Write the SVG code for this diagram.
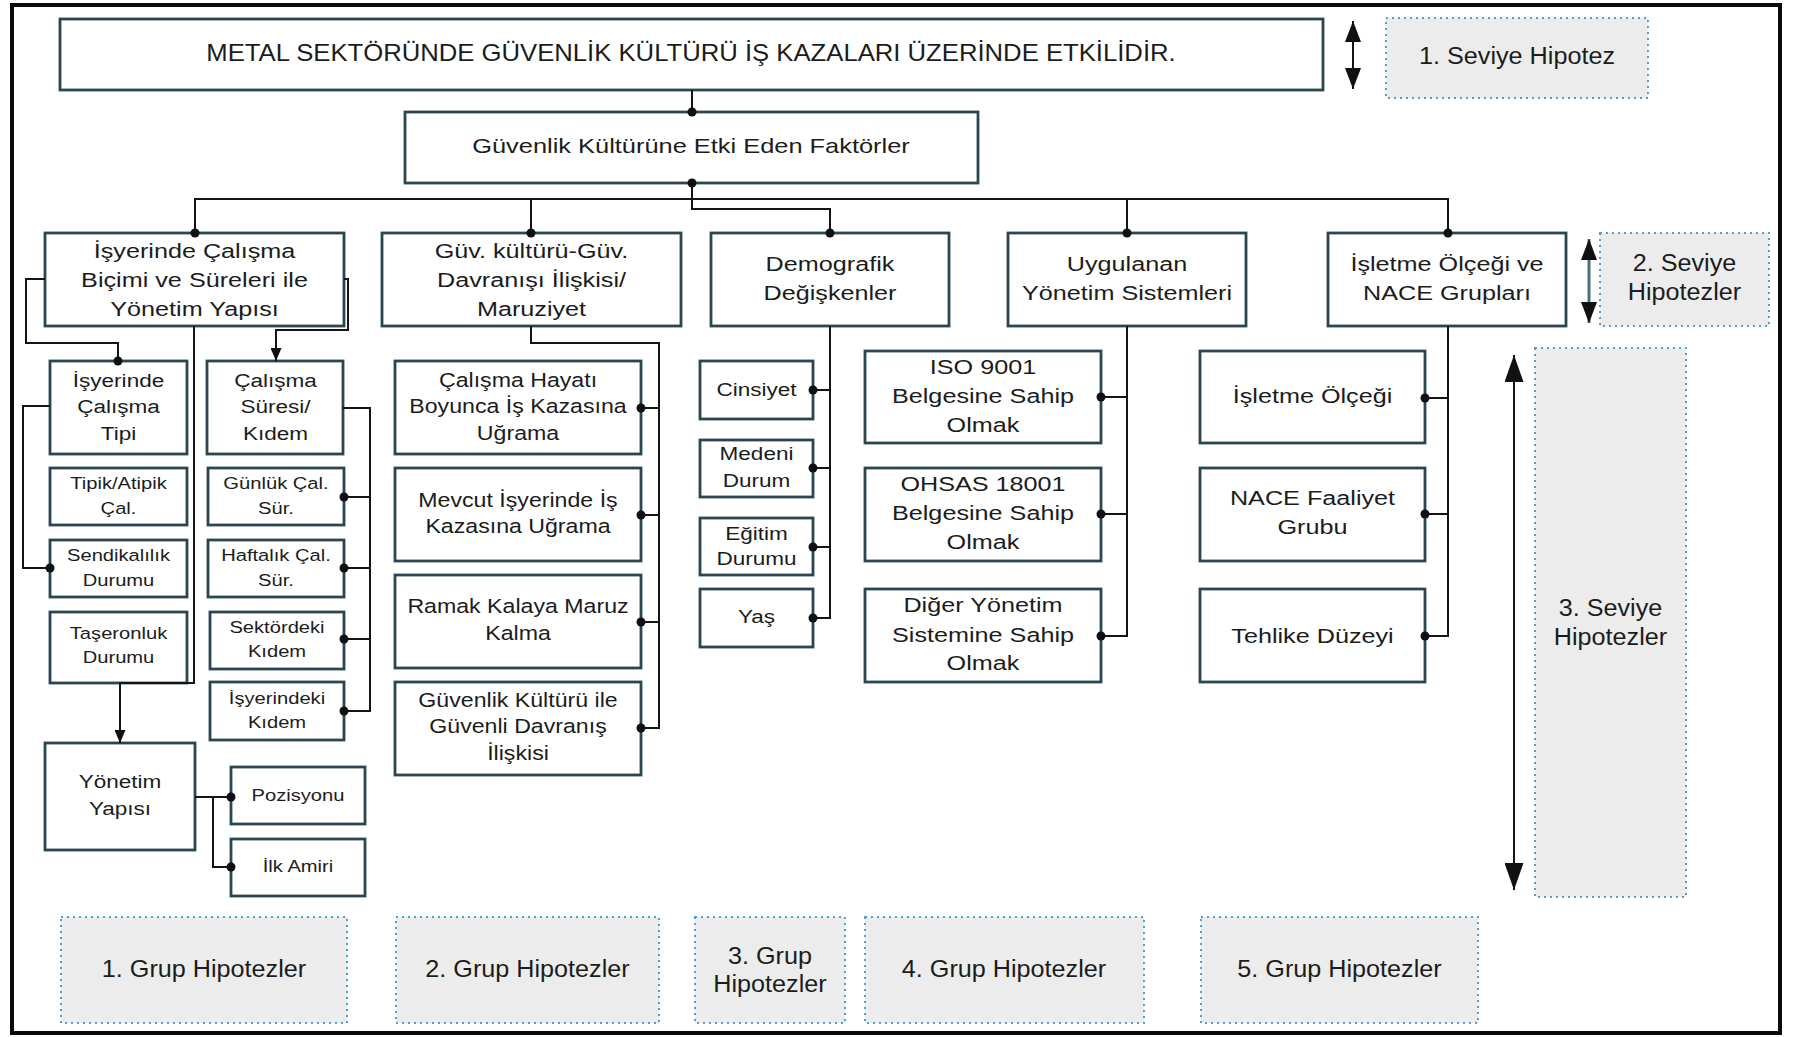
<svg xmlns="http://www.w3.org/2000/svg" width="1802" height="1037" viewBox="0 0 1802 1037">
  <style>
    .box { fill: #ffffff; stroke: #2a4652; stroke-width: 2.8; }
    .hyp { fill: #ececec; stroke: #4f9fcf; stroke-width: 2; stroke-dasharray: 2 4; }
    .wire { fill: none; stroke: #141414; stroke-width: 2; }
    .dot { fill: #111111; }
    text { font-family: "Liberation Sans", Arial, Helvetica, sans-serif; fill: #1c1c1c; text-anchor: middle; }
    .f24 { font-size: 24px; }
    .f21 { font-size: 21px; }
    .f19 { font-size: 19.3px; }
    .f18 { font-size: 18.8px; }
    .f17 { font-size: 16.8px; }
  </style>
  <defs>
    <marker id="arrSm" viewBox="0 0 10 10" refX="10" refY="5" markerWidth="13" markerHeight="11" markerUnits="userSpaceOnUse" orient="auto" preserveAspectRatio="none">
      <path d="M0,0 L10,5 L0,10 z" fill="#111111"/>
    </marker>
    <marker id="arrMd" viewBox="0 0 10 10" refX="10" refY="5" markerWidth="21" markerHeight="16" markerUnits="userSpaceOnUse" orient="auto-start-reverse" preserveAspectRatio="none">
      <path d="M0,0 L10,5 L0,10 z" fill="#111111"/>
    </marker>
    <marker id="arrLg" viewBox="0 0 10 10" refX="10" refY="5" markerWidth="27" markerHeight="19" markerUnits="userSpaceOnUse" orient="auto-start-reverse" preserveAspectRatio="none">
      <path d="M0,0 L10,5 L0,10 z" fill="#111111"/>
    </marker>
  </defs>

  <!-- page and frame -->
  <rect x="0" y="0" width="1802" height="1037" fill="#ffffff"/>
  <rect x="12" y="5" width="1768" height="1028" fill="#ffffff" stroke="#0a0a0a" stroke-width="4"/>

  <!-- level 1 -->
  <g id="n-title">
    <rect class="box" x="60" y="19" width="1263" height="71"/>
    <text class="f24" transform="matrix(1.07 0 0 1 691 0)"><tspan x="0" y="61">METAL SEKTÖRÜNDE GÜVENLİK KÜLTÜRÜ İŞ KAZALARI ÜZERİNDE ETKİLİDİR.</tspan></text>
  </g>
  <g id="n-factors">
    <rect class="box" x="405" y="112" width="573" height="71"/>
    <text class="f21" transform="matrix(1.21 0 0 1 691 0)"><tspan x="0" y="153">Güvenlik Kültürüne Etki Eden Faktörler</tspan></text>
  </g>

  <!-- level 2 -->
  <g id="n-calisma-bicimi">
    <rect class="box" x="45" y="233" width="299" height="93"/>
    <text class="f21" transform="matrix(1.2 0 0 1 194.5 0)"><tspan x="0" y="258">İşyerinde Çalışma</tspan><tspan x="0" y="287">Biçimi ve Süreleri ile</tspan><tspan x="0" y="316">Yönetim Yapısı</tspan></text>
  </g>
  <g id="n-guv-davranis">
    <rect class="box" x="382" y="233" width="299" height="93"/>
    <text class="f21" transform="matrix(1.2 0 0 1 531.5 0)"><tspan x="0" y="258">Güv. kültürü-Güv.</tspan><tspan x="0" y="287">Davranışı İlişkisi/</tspan><tspan x="0" y="316">Maruziyet</tspan></text>
  </g>
  <g id="n-demografik">
    <rect class="box" x="711" y="233" width="238" height="93"/>
    <text class="f21" transform="matrix(1.2 0 0 1 830 0)"><tspan x="0" y="271">Demografik</tspan><tspan x="0" y="300">Değişkenler</tspan></text>
  </g>
  <g id="n-yonetim-sistemleri">
    <rect class="box" x="1008" y="233" width="238" height="93"/>
    <text class="f21" transform="matrix(1.2 0 0 1 1127 0)"><tspan x="0" y="271">Uygulanan</tspan><tspan x="0" y="300">Yönetim Sistemleri</tspan></text>
  </g>
  <g id="n-isletme-nace">
    <rect class="box" x="1328" y="233" width="238" height="93"/>
    <text class="f21" transform="matrix(1.2 0 0 1 1447 0)"><tspan x="0" y="271">İşletme Ölçeği ve</tspan><tspan x="0" y="300">NACE Grupları</tspan></text>
  </g>

  <!-- group 1 children -->
  <g id="n-calisma-tipi">
    <rect class="box" x="50" y="361" width="137" height="93"/>
    <text class="f18" transform="matrix(1.2 0 0 1 118.5 0)"><tspan x="0" y="387">İşyerinde</tspan><tspan x="0" y="413.5">Çalışma</tspan><tspan x="0" y="440">Tipi</tspan></text>
  </g>
  <g id="n-calisma-suresi">
    <rect class="box" x="207" y="361" width="136" height="93"/>
    <text class="f18" transform="matrix(1.2 0 0 1 275.5 0)"><tspan x="0" y="387">Çalışma</tspan><tspan x="0" y="413.5">Süresi/</tspan><tspan x="0" y="440">Kıdem</tspan></text>
  </g>
  <g id="n-tipik">
    <rect class="box" x="50" y="468" width="137" height="57"/>
    <text class="f17" transform="matrix(1.2 0 0 1 118.5 0)"><tspan x="0" y="489">Tipik/Atipik</tspan><tspan x="0" y="514">Çal.</tspan></text>
  </g>
  <g id="n-gunluk">
    <rect class="box" x="208" y="468" width="136" height="57"/>
    <text class="f17" transform="matrix(1.2 0 0 1 276 0)"><tspan x="0" y="489">Günlük Çal.</tspan><tspan x="0" y="514">Sür.</tspan></text>
  </g>
  <g id="n-sendika">
    <rect class="box" x="50" y="540" width="137" height="57"/>
    <text class="f17" transform="matrix(1.2 0 0 1 118.5 0)"><tspan x="0" y="561">Sendikalılık</tspan><tspan x="0" y="586">Durumu</tspan></text>
  </g>
  <g id="n-haftalik">
    <rect class="box" x="208" y="540" width="136" height="57"/>
    <text class="f17" transform="matrix(1.2 0 0 1 276 0)"><tspan x="0" y="561">Haftalık Çal.</tspan><tspan x="0" y="586">Sür.</tspan></text>
  </g>
  <g id="n-taseron">
    <rect class="box" x="50" y="612" width="137" height="71"/>
    <text class="f17" transform="matrix(1.2 0 0 1 118.5 0)"><tspan x="0" y="639">Taşeronluk</tspan><tspan x="0" y="663">Durumu</tspan></text>
  </g>
  <g id="n-sektor-kidem">
    <rect class="box" x="210" y="612" width="134" height="57"/>
    <text class="f17" transform="matrix(1.2 0 0 1 277 0)"><tspan x="0" y="633">Sektördeki</tspan><tspan x="0" y="657">Kıdem</tspan></text>
  </g>
  <g id="n-isyeri-kidem">
    <rect class="box" x="210" y="682" width="134" height="58"/>
    <text class="f17" transform="matrix(1.2 0 0 1 277 0)"><tspan x="0" y="704">İşyerindeki</tspan><tspan x="0" y="728">Kıdem</tspan></text>
  </g>
  <g id="n-yonetim-yapisi">
    <rect class="box" x="45" y="743" width="150" height="107"/>
    <text class="f18" transform="matrix(1.2 0 0 1 120 0)"><tspan x="0" y="788.5">Yönetim</tspan><tspan x="0" y="815">Yapısı</tspan></text>
  </g>
  <g id="n-pozisyon">
    <rect class="box" x="231" y="767" width="134" height="57"/>
    <text class="f17" transform="matrix(1.2 0 0 1 298 0)"><tspan x="0" y="801">Pozisyonu</tspan></text>
  </g>
  <g id="n-ilk-amir">
    <rect class="box" x="231" y="839" width="134" height="57"/>
    <text class="f17" transform="matrix(1.2 0 0 1 298 0)"><tspan x="0" y="872">İlk Amiri</tspan></text>
  </g>

  <!-- group 2 children -->
  <g id="n-hayat-boyu">
    <rect class="box" x="395" y="361" width="246" height="93"/>
    <text class="f19" transform="matrix(1.2 0 0 1 518 0)"><tspan x="0" y="387">Çalışma Hayatı</tspan><tspan x="0" y="413.5">Boyunca İş Kazasına</tspan><tspan x="0" y="440">Uğrama</tspan></text>
  </g>
  <g id="n-mevcut-isyeri">
    <rect class="box" x="395" y="468" width="246" height="93"/>
    <text class="f19" transform="matrix(1.2 0 0 1 518 0)"><tspan x="0" y="507">Mevcut İşyerinde İş</tspan><tspan x="0" y="533.5">Kazasına Uğrama</tspan></text>
  </g>
  <g id="n-ramak-kala">
    <rect class="box" x="395" y="575" width="246" height="93"/>
    <text class="f19" transform="matrix(1.2 0 0 1 518 0)"><tspan x="0" y="613.5">Ramak Kalaya Maruz</tspan><tspan x="0" y="640">Kalma</tspan></text>
  </g>
  <g id="n-kultur-davranis">
    <rect class="box" x="395" y="682" width="246" height="93"/>
    <text class="f19" transform="matrix(1.2 0 0 1 518 0)"><tspan x="0" y="707">Güvenlik Kültürü ile</tspan><tspan x="0" y="733.5">Güvenli Davranış</tspan><tspan x="0" y="760">İlişkisi</tspan></text>
  </g>

  <!-- group 3 children -->
  <g id="n-cinsiyet">
    <rect class="box" x="700" y="361" width="113" height="58"/>
    <text class="f18" transform="matrix(1.2 0 0 1 756.5 0)"><tspan x="0" y="396">Cinsiyet</tspan></text>
  </g>
  <g id="n-medeni">
    <rect class="box" x="700" y="440" width="113" height="57"/>
    <text class="f18" transform="matrix(1.2 0 0 1 756.5 0)"><tspan x="0" y="460">Medeni</tspan><tspan x="0" y="487">Durum</tspan></text>
  </g>
  <g id="n-egitim">
    <rect class="box" x="700" y="518" width="113" height="57"/>
    <text class="f18" transform="matrix(1.2 0 0 1 756.5 0)"><tspan x="0" y="540">Eğitim</tspan><tspan x="0" y="565">Durumu</tspan></text>
  </g>
  <g id="n-yas">
    <rect class="box" x="700" y="589" width="113" height="58"/>
    <text class="f18" transform="matrix(1.2 0 0 1 756.5 0)"><tspan x="0" y="623.5">Yaş</tspan></text>
  </g>

  <!-- group 4 children -->
  <g id="n-iso9001">
    <rect class="box" x="865" y="351" width="236" height="92"/>
    <text class="f21" transform="matrix(1.2 0 0 1 983 0)"><tspan x="0" y="374">ISO 9001</tspan><tspan x="0" y="403">Belgesine Sahip</tspan><tspan x="0" y="432">Olmak</tspan></text>
  </g>
  <g id="n-ohsas">
    <rect class="box" x="865" y="468" width="236" height="93"/>
    <text class="f21" transform="matrix(1.2 0 0 1 983 0)"><tspan x="0" y="491.5">OHSAS 18001</tspan><tspan x="0" y="520.5">Belgesine Sahip</tspan><tspan x="0" y="549">Olmak</tspan></text>
  </g>
  <g id="n-diger-sistem">
    <rect class="box" x="865" y="589" width="236" height="93"/>
    <text class="f21" transform="matrix(1.2 0 0 1 983 0)"><tspan x="0" y="612.5">Diğer Yönetim</tspan><tspan x="0" y="642">Sistemine Sahip</tspan><tspan x="0" y="670.5">Olmak</tspan></text>
  </g>

  <!-- group 5 children -->
  <g id="n-olcek">
    <rect class="box" x="1200" y="351" width="225" height="92"/>
    <text class="f21" transform="matrix(1.2 0 0 1 1312.5 0)"><tspan x="0" y="403">İşletme Ölçeği</tspan></text>
  </g>
  <g id="n-nace">
    <rect class="box" x="1200" y="468" width="225" height="93"/>
    <text class="f21" transform="matrix(1.2 0 0 1 1312.5 0)"><tspan x="0" y="505.5">NACE Faaliyet</tspan><tspan x="0" y="534">Grubu</tspan></text>
  </g>
  <g id="n-tehlike">
    <rect class="box" x="1200" y="589" width="225" height="93"/>
    <text class="f21" transform="matrix(1.2 0 0 1 1312.5 0)"><tspan x="0" y="643">Tehlike Düzeyi</tspan></text>
  </g>

  <!-- hypothesis level / group labels -->
  <g id="h-seviye1">
    <rect class="hyp" x="1386" y="18" width="262" height="80"/>
    <text class="f24" transform="matrix(1.05 0 0 1 1517 0)"><tspan x="0" y="64">1. Seviye Hipotez</tspan></text>
  </g>
  <g id="h-seviye2">
    <rect class="hyp" x="1600" y="233" width="169" height="93"/>
    <text class="f24" transform="matrix(1.05 0 0 1 1684.5 0)"><tspan x="0" y="271">2. Seviye</tspan><tspan x="0" y="300">Hipotezler</tspan></text>
  </g>
  <g id="h-seviye3">
    <rect class="hyp" x="1535" y="348" width="151" height="549"/>
    <text class="f24" transform="matrix(1.05 0 0 1 1610.5 0)"><tspan x="0" y="616">3. Seviye</tspan><tspan x="0" y="645">Hipotezler</tspan></text>
  </g>
  <g id="h-grup1">
    <rect class="hyp" x="61" y="917" width="286" height="106"/>
    <text class="f24" transform="matrix(1.05 0 0 1 204 0)"><tspan x="0" y="977">1. Grup Hipotezler</tspan></text>
  </g>
  <g id="h-grup2">
    <rect class="hyp" x="396" y="917" width="263" height="106"/>
    <text class="f24" transform="matrix(1.05 0 0 1 527.5 0)"><tspan x="0" y="977">2. Grup Hipotezler</tspan></text>
  </g>
  <g id="h-grup3">
    <rect class="hyp" x="695" y="917" width="150" height="106"/>
    <text class="f24" transform="matrix(1.05 0 0 1 770 0)"><tspan x="0" y="964">3. Grup</tspan><tspan x="0" y="992">Hipotezler</tspan></text>
  </g>
  <g id="h-grup4">
    <rect class="hyp" x="865" y="917" width="279" height="106"/>
    <text class="f24" transform="matrix(1.05 0 0 1 1004 0)"><tspan x="0" y="977">4. Grup Hipotezler</tspan></text>
  </g>
  <g id="h-grup5">
    <rect class="hyp" x="1201" y="917" width="277" height="106"/>
    <text class="f24" transform="matrix(1.05 0 0 1 1339.5 0)"><tspan x="0" y="977">5. Grup Hipotezler</tspan></text>
  </g>

  <!-- connectors -->
  <g id="connectors">
    <!-- trunk and level-2 bus -->
    <path class="wire" d="M692,90 V112"/>
    <path class="wire" d="M692,183 V209 H830 V233"/>
    <path class="wire" d="M195,233 V199 H1448 V233"/>
    <path class="wire" d="M531,199 V233"/>
    <path class="wire" d="M1127,199 V233"/>

    <!-- group 1 -->
    <path class="wire" d="M45,279 H26 V343 H118 V361"/>
    <path class="wire" d="M50,406 H23 V568 H50"/>
    <path class="wire" d="M194,326 V683 H120 V743" marker-end="url(#arrSm)"/>
    <path class="wire" d="M344,279 H348 V330 H276 V361" marker-end="url(#arrSm)"/>
    <path class="wire" d="M343,408 H370 V711 H344 M370,497 H344 M370,568 H344 M370,639 H344"/>
    <path class="wire" d="M195,797 H231 M213,797 V867 H231"/>

    <!-- group 2 -->
    <path class="wire" d="M531,326 V343 H659 V728 H641 M659,408 H641 M659,515 H641 M659,622 H641"/>

    <!-- group 3 -->
    <path class="wire" d="M830,326 V618 H813 M830,390 H813 M830,468 H813 M830,547 H813"/>

    <!-- group 4 -->
    <path class="wire" d="M1127,326 V636 H1101 M1127,397 H1101 M1127,514 H1101"/>

    <!-- group 5 -->
    <path class="wire" d="M1448,326 V636 H1425 M1448,398 H1425 M1448,514 H1425"/>

    <!-- junction dots -->
    <g class="dot">
      <circle cx="692" cy="112" r="4.5"/>
      <circle cx="692" cy="183" r="4.5"/>
      <circle cx="195" cy="233" r="4.5"/>
      <circle cx="531" cy="233" r="4.5"/>
      <circle cx="830" cy="233" r="4.5"/>
      <circle cx="1127" cy="233" r="4.5"/>
      <circle cx="1448" cy="233" r="4.5"/>
      <circle cx="118" cy="361" r="4.5"/>
      <circle cx="50" cy="568" r="4.5"/>
      <circle cx="344" cy="497" r="4.5"/>
      <circle cx="344" cy="568" r="4.5"/>
      <circle cx="344" cy="639" r="4.5"/>
      <circle cx="344" cy="711" r="4.5"/>
      <circle cx="231" cy="797" r="4.5"/>
      <circle cx="231" cy="867" r="4.5"/>
      <circle cx="641" cy="408" r="4.5"/>
      <circle cx="641" cy="515" r="4.5"/>
      <circle cx="641" cy="622" r="4.5"/>
      <circle cx="641" cy="728" r="4.5"/>
      <circle cx="813" cy="390" r="4.5"/>
      <circle cx="813" cy="468" r="4.5"/>
      <circle cx="813" cy="547" r="4.5"/>
      <circle cx="813" cy="618" r="4.5"/>
      <circle cx="1101" cy="397" r="4.5"/>
      <circle cx="1101" cy="514" r="4.5"/>
      <circle cx="1101" cy="636" r="4.5"/>
      <circle cx="1425" cy="398" r="4.5"/>
      <circle cx="1425" cy="514" r="4.5"/>
      <circle cx="1425" cy="636" r="4.5"/>
    </g>

    <!-- hypothesis level arrows -->
    <path class="wire" d="M1353,21 V89" stroke-width="2.5" marker-start="url(#arrMd)" marker-end="url(#arrMd)"/>
    <path d="M1589,239 V323" fill="none" stroke="#4d6e7a" stroke-width="3" marker-start="url(#arrMd)" marker-end="url(#arrMd)"/>
    <path class="wire" d="M1514,355 V890" stroke-width="2.5" marker-start="url(#arrLg)" marker-end="url(#arrLg)"/>
  </g>
</svg>
